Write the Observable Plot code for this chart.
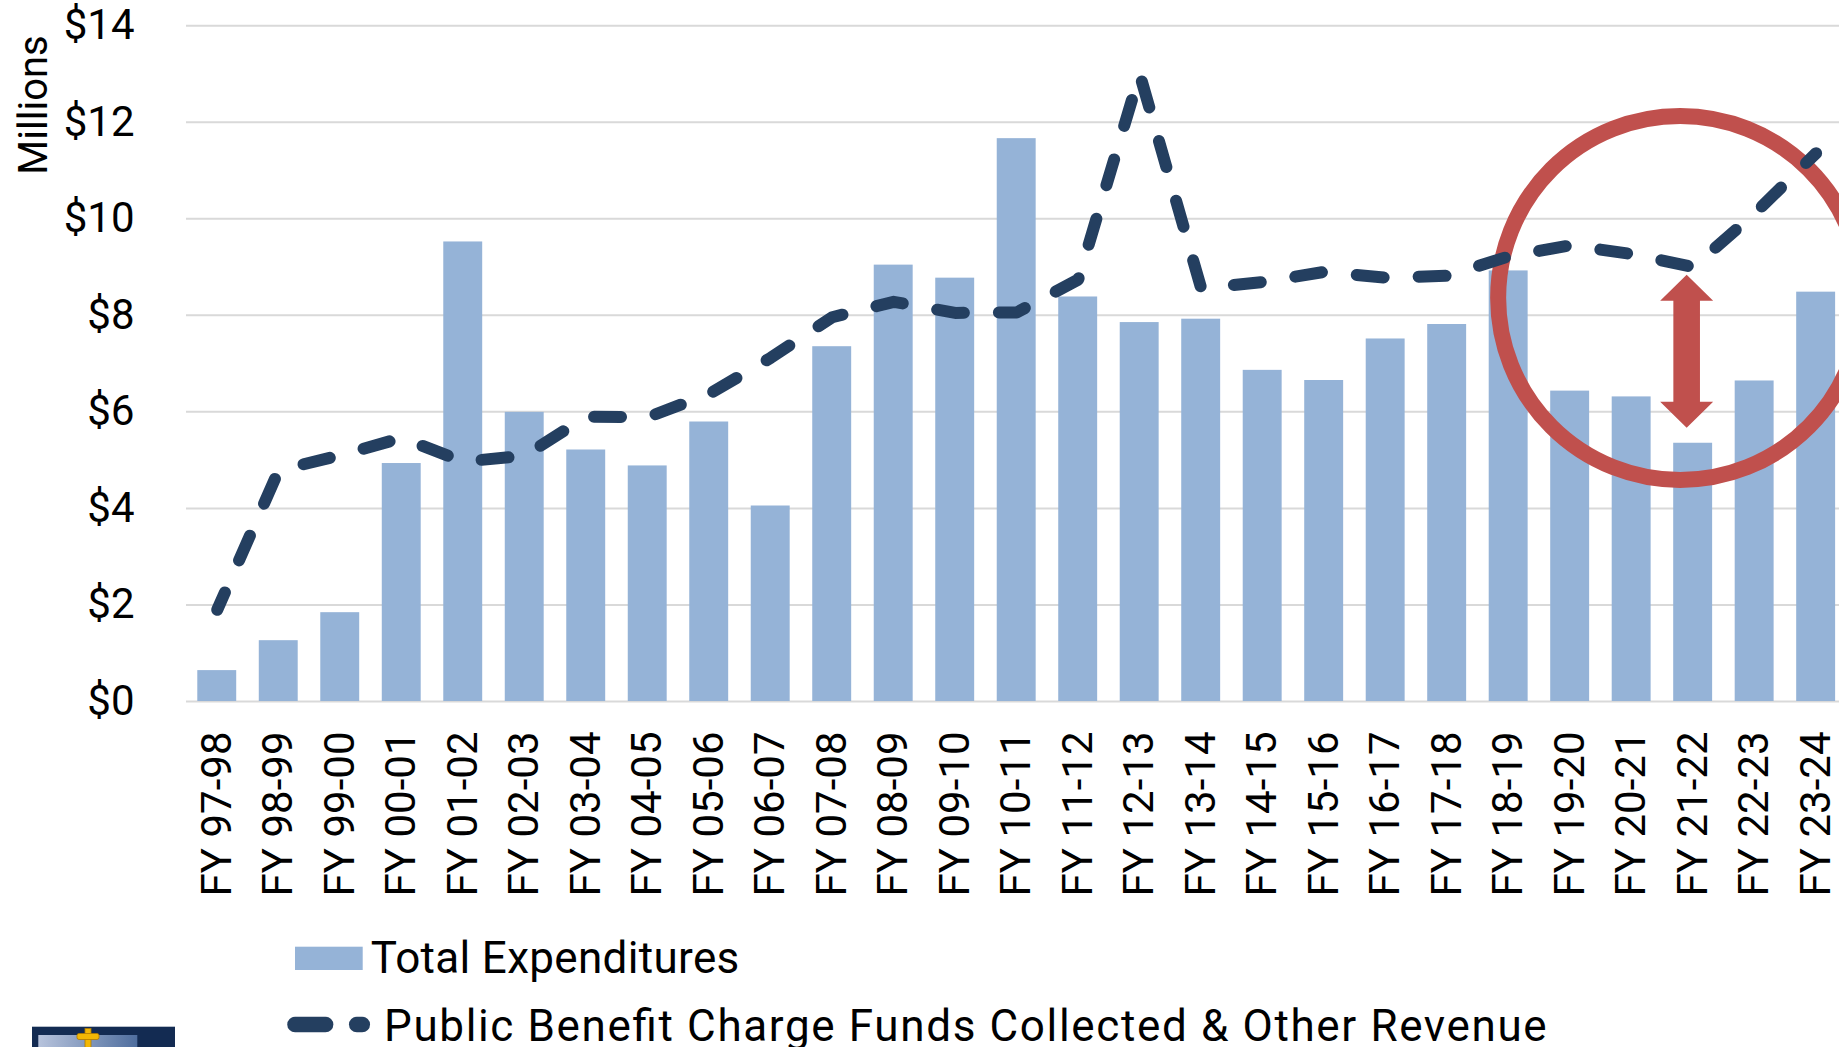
<!DOCTYPE html>
<html>
<head>
<meta charset="utf-8">
<script src="https://cdn.jsdelivr.net/npm/d3@7"></script>
<script src="https://cdn.jsdelivr.net/npm/@observablehq/plot@0.6"></script>
<style>
  html, body { margin: 0; padding: 0; background: #fff; overflow: hidden; width: 1839px; height: 1047px; }
  #chart svg { display: block; max-width: none; }
  #legend { position: relative; width: 1839px; height: 142px; }
  #legend svg { display: block; }
</style>
</head>
<body>
<div id="chart"></div>
<div id="legend"></div>
<script>
// ---- data ----
const years = ["FY 97-98","FY 98-99","FY 99-00","FY 00-01","FY 01-02","FY 02-03","FY 03-04","FY 04-05","FY 05-06","FY 06-07","FY 07-08","FY 08-09","FY 09-10","FY 10-11","FY 11-12","FY 12-13","FY 13-14","FY 14-15","FY 15-16","FY 16-17","FY 17-18","FY 18-19","FY 19-20","FY 20-21","FY 21-22","FY 22-23","FY 23-24"];
const expenditures = [0.64,1.26,1.84,4.93,9.52,5.99,5.21,4.88,5.79,4.05,7.35,9.04,8.77,11.66,8.38,7.85,7.92,6.86,6.65,7.51,7.81,8.92,6.43,6.31,5.35,6.64,8.48];
const revenue = [1.9,4.79,5.1,5.46,4.97,5.09,5.9,5.89,6.37,7.12,7.96,8.28,8.05,8.06,8.74,13.0,8.56,8.69,8.9,8.78,8.82,9.22,9.45,9.27,9.0,10.11,11.36];
const yTicks = [0,2,4,6,8,10,12,14];
const yLabel = "Millions";
const seriesNames = ["Total Expenditures", "Public Benefit Charge Funds Collected & Other Revenue"];
// annotation (gap highlight)
const highlightYear = "FY 21-22";
const highlightCenter = 8.36;
const gapTop = 8.83;
const gapBottom = 5.66;

// ---- styles ----
const barColor = "#95B3D7";
const lineColor = "#243F60";
const gridColor = "#D9D9D9";
const accent = "#C0504D";

const data = years.map((year, i) => ({year, exp: expenditures[i], rev: revenue[i]}));

function gapArrow(index, scales) {
  const bw = scales.x.bandwidth ? scales.x.bandwidth() : 0;
  const xc = scales.x(highlightYear) + bw / 2 - 6;
  const y1 = scales.y(gapTop), y2 = scales.y(gapBottom);
  const hw = 26.5, hl = 26, sw = 13.3;
  const d = `M${xc},${y1} L${xc+hw},${y1+hl} L${xc+sw},${y1+hl} L${xc+sw},${y2-hl} L${xc+hw},${y2-hl} L${xc},${y2} L${xc-hw},${y2-hl} L${xc-sw},${y2-hl} L${xc-sw},${y1+hl} L${xc-hw},${y1+hl} Z`;
  return d3.create("svg:path").attr("d", d).attr("fill", accent).node();
}

const chart = Plot.plot({
  width: 1848,
  height: 905,
  marginLeft: 186,
  marginRight: 1.6,
  marginTop: 25.2,
  marginBottom: 204,
  style: {fontFamily: "Roboto, 'Open Sans', sans-serif", fontSize: "42px", color: "#000", background: "#fff", overflow: "visible"},
  x: {domain: years, paddingInner: 0.367, paddingOuter: 0.1835, align: 0.5, round: false, label: null},
  y: {domain: [0, 14], label: null},
  marks: [
    Plot.ruleY(yTicks, {stroke: gridColor, strokeWidth: 2}),
    Plot.barY(data, {x: "year", y: "exp", fill: barColor}),
    Plot.dot([{year: highlightYear, v: highlightCenter}], {x: "year", y: "v", r: 182, dx: -13, stroke: accent, strokeWidth: 16, fill: "none"}),
    Plot.line(data, {x: "year", y: "rev", stroke: lineColor, strokeWidth: 12, strokeDasharray: "27,35", strokeDashoffset: 8, strokeLinecap: "round", strokeLinejoin: "round"}),
    gapArrow,
    Plot.axisY({ticks: yTicks, tickFormat: d => "$" + d, tickSize: 0, tickPadding: 52, fontSize: 42, label: null}),
    Plot.axisX({tickRotate: -90, tickSize: 0, tickPadding: 30, fontSize: 42, label: null}),
    Plot.text([yLabel], {text: d => d, frameAnchor: "top-left", textAnchor: "middle", lineAnchor: "middle", rotate: -90, dx: -152, dy: 79.3, fontSize: 40, fill: "#000"})
  ]
});
document.getElementById("chart").appendChild(chart);

// ---- legend ----
const leg = d3.select("#legend").append("svg").attr("width", 1839).attr("height", 142)
  .style("font-family", "Roboto, 'Open Sans', sans-serif");
leg.append("rect").attr("x", 295).attr("y", 41.7).attr("width", 67.7).attr("height", 23.3).attr("fill", barColor);
leg.append("text").attr("x", 370.7).attr("y", 67.7).attr("font-size", 44).attr("fill", "#000")
  .attr("textLength", 368.6).attr("lengthAdjust", "spacing").text(seriesNames[0]);
leg.append("line").attr("x1", 295.1).attr("x2", 325.5).attr("y1", 119.5).attr("y2", 119.5)
  .attr("stroke", lineColor).attr("stroke-width", 15.7).attr("stroke-linecap", "round");
leg.append("line").attr("x1", 356.8).attr("x2", 362.2).attr("y1", 119.5).attr("y2", 119.5)
  .attr("stroke", lineColor).attr("stroke-width", 15.7).attr("stroke-linecap", "round");
leg.append("text").attr("x", 384).attr("y", 135.5).attr("font-size", 44).attr("fill", "#000")
  .attr("textLength", 1162.7).attr("lengthAdjust", "spacing").text(seriesNames[1]);

// logo fragment at bottom-left
const defs = leg.append("defs");
const gr = defs.append("linearGradient").attr("id", "lg").attr("x1", 0).attr("x2", 1).attr("y1", 0).attr("y2", 0);
gr.append("stop").attr("offset", "0%").attr("stop-color", "#B7C3DC");
gr.append("stop").attr("offset", "100%").attr("stop-color", "#4F6E9E");
leg.append("rect").attr("x", 32).attr("y", 121.7).attr("width", 143).attr("height", 21).attr("fill", "#132B52");
leg.append("rect").attr("x", 38.3).attr("y", 130).attr("width", 99).attr("height", 13).attr("fill", "url(#lg)");
leg.append("rect").attr("x", 85).attr("y", 123.5).attr("width", 6).attr("height", 19).attr("fill", "#F2B705").attr("stroke", "#B07A00").attr("stroke-width", 0.8);
leg.append("rect").attr("x", 77).attr("y", 128.5).attr("width", 22).attr("height", 6).attr("rx", 2).attr("fill", "#F2B705").attr("stroke", "#B07A00").attr("stroke-width", 0.8);
</script>
</body>
</html>
